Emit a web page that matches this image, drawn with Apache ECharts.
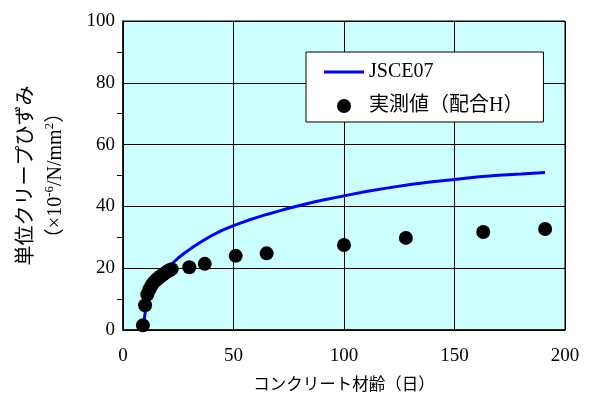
<!DOCTYPE html>
<html>
<head>
<meta charset="utf-8">
<script src="https://cdn.jsdelivr.net/npm/echarts@6/dist/echarts.min.js"></script>
<style>
  html, body { margin: 0; padding: 0; background: #ffffff; }
  #chart { width: 590px; height: 405px; }
</style>
</head>
<body>
<div id="chart"></div>
<script>
// Unit creep strain vs. concrete age: JSCE07 prediction and measured values (mix H)
const seriesNames = ['JSCE07', '実測値（配合H）'];

// JSCE07 prediction curve
const predAge = [9, 10, 11, 12, 13, 14, 15, 16, 17, 18, 20, 22, 25, 28, 31, 35, 40, 45, 50, 55, 60, 65, 70, 75, 80, 85, 90, 100, 110, 120, 130, 140, 150, 160, 170, 180, 191];
const predStrain = [0, 5.5, 8.5, 10.6, 12.3, 13.8, 15.0, 16.1, 17.1, 18.0, 19.7, 21.3, 23.3, 25.0, 26.5, 28.4, 30.5, 32.3, 33.8, 35.1, 36.3, 37.4, 38.4, 39.4, 40.3, 41.2, 42.0, 43.4, 44.8, 46.0, 47.1, 48.0, 48.7, 49.5, 50.1, 50.5, 51.0];

// Measured unit creep strain
const measAge = [9, 10, 11, 12, 13, 14, 15, 16, 17, 18, 19, 20, 21, 22, 30, 37, 51, 65, 100, 128, 163, 191];
const measStrain = [1.5, 8.0, 11.5, 13.2, 14.5, 15.5, 16.2, 16.8, 17.4, 17.9, 18.4, 18.9, 19.3, 19.7, 20.3, 21.4, 24.0, 24.8, 27.5, 29.8, 31.7, 32.7];

const xTicks = { min: 0, max: 200, interval: 50 };
const yTicks = { min: 0, max: 100, interval: 20 };

const serif = "'Liberation Serif', 'Noto Sans CJK JP', serif";

const chart = echarts.init(document.getElementById('chart'), null, { renderer: 'canvas' });

chart.setOption({
  animation: false,
  backgroundColor: '#ffffff',
  textStyle: { fontFamily: serif, color: '#000' },
  grid: {
    left: 123, right: 25, top: 21, bottom: 75,
    show: true,
    backgroundColor: '#CCFFFF',
    borderColor: '#000',
    borderWidth: 1
  },
  legend: {
    orient: 'vertical',
    left: 306, top: 52,
    backgroundColor: '#ffffff',
    borderColor: '#000',
    borderWidth: 1,
    borderRadius: 0,
    padding: [10, 20, 6, 18],
    itemGap: 14,
    itemWidth: 40,
    itemHeight: 14,
    textStyle: { fontFamily: serif, fontSize: 20, color: '#000' },
    data: [
      { name: seriesNames[0], icon: 'path://M0,6 L40,6 L40,9 L0,9 Z' },
      { name: seriesNames[1], icon: 'circle' }
    ]
  },
  xAxis: {
    type: 'value',
    min: xTicks.min, max: xTicks.max, interval: xTicks.interval,
    name: 'コンクリート材齢（日）',
    nameLocation: 'middle',
    nameGap: 47,
    nameTextStyle: { fontFamily: serif, fontSize: 16.5, color: '#000' },
    axisLine: { show: true, lineStyle: { color: '#000', width: 1.5 } },
    axisTick: { show: false },
    axisLabel: { fontFamily: serif, fontSize: 19, color: '#000', margin: 17 },
    splitLine: { show: true, lineStyle: { color: '#000', width: 1 } }
  },
  yAxis: {
    type: 'value',
    min: yTicks.min, max: yTicks.max, interval: yTicks.interval,
    name: '{a|単位クリープひずみ}\n{b|（×10}{s|-6}{b|/N/mm}{s|2}{b|）}',
    nameLocation: 'middle',
    nameRotate: 90,
    nameGap: 54,
    nameTextStyle: {
      color: '#000',
      rich: {
        a: { fontFamily: serif, fontSize: 20, lineHeight: 32, color: '#000' },
        b: { fontFamily: serif, fontSize: 20, lineHeight: 26, color: '#000' },
        s: { fontFamily: serif, fontSize: 13, lineHeight: 26, verticalAlign: 'top', color: '#000' }
      }
    },
    axisLine: { show: true, lineStyle: { color: '#000', width: 1.5 } },
    axisTick: { show: false },
    minorTick: { show: true, splitNumber: 2, length: 6, lineStyle: { color: '#000', width: 1 } },
    axisLabel: { fontFamily: serif, fontSize: 19, color: '#000', margin: 8 },
    splitLine: { show: true, lineStyle: { color: '#000', width: 1 } }
  },
  series: [
    {
      name: seriesNames[0],
      type: 'line',
      data: predAge.map((a, i) => [a, predStrain[i]]),
      showSymbol: false,
      symbol: 'none',
      lineStyle: { color: '#0000FF', width: 3 },
      itemStyle: { color: '#0000FF' },
      z: 2
    },
    {
      name: seriesNames[1],
      type: 'scatter',
      data: measAge.map((a, i) => [a, measStrain[i]]),
      symbol: 'circle',
      symbolSize: 14,
      itemStyle: { color: '#000', opacity: 1 },
      z: 3
    }
  ]
});
</script>
</body>
</html>
